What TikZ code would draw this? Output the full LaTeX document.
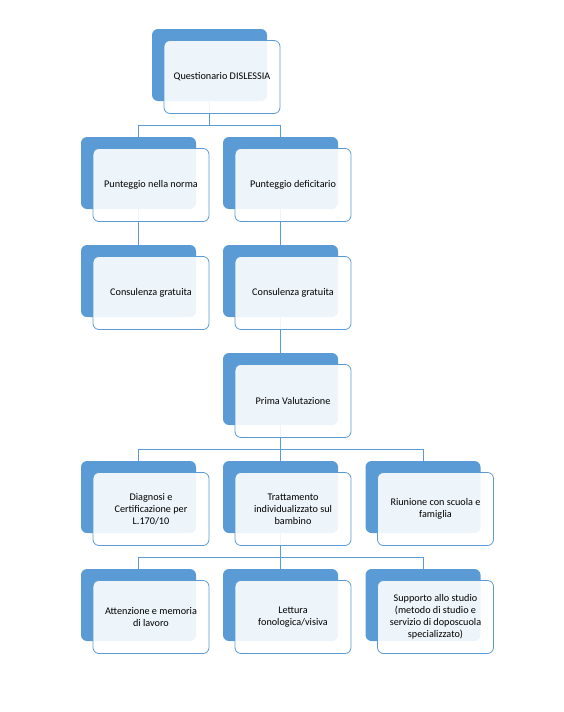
\documentclass[tikz,border=0pt]{standalone}
\usepackage{fontspec}
\setmainfont{Carlito}
\definecolor{officeblue}{HTML}{5B9BD5}
\definecolor{linkblue}{HTML}{5B9BD5}

\begin{document}
\begin{tikzpicture}[x=1pt,y=-1pt,
  backbox/.style={fill=officeblue,rounded corners=6pt,minimum width=115pt,minimum height=72pt,inner sep=0pt},
  frontbox/.style={draw=officeblue,line width=0.8pt,fill=white,fill opacity=0.9,text opacity=1,
    rounded corners=6pt,minimum width=116pt,minimum height=73pt,inner sep=2pt,
    align=center,font=\fontsize{10.2}{12}\selectfont},
  link/.style={draw=linkblue,line width=0.8pt}]
  \useasboundingbox (0,0) rectangle (564,712);
  % back shapes
  \node[backbox] (qb)  at (209.5,65) {};
  \node[backbox] (pnb) at (138.5,173) {};
  \node[backbox] (pdb) at (280.5,173) {};
  \node[backbox] (cnb) at (138.5,281) {};
  \node[backbox] (cdb) at (280.5,281) {};
  \node[backbox] (pvb) at (280.5,389) {};
  \node[backbox] (dcb) at (138.5,497) {};
  \node[backbox] (tib) at (280.5,497) {};
  \node[backbox] (rsb) at (423,497) {};
  \node[backbox] (amb) at (138.5,605) {};
  \node[backbox] (lfb) at (280.5,605) {};
  \node[backbox] (ssb) at (423,605) {};
  % connectors
  \draw[link] (qb.south) -- ++(0,24) -| (pnb.north);
  \draw[link] (qb.south) -- ++(0,24) -| (pdb.north);
  \draw[link] (pnb.south) -- (cnb.north);
  \draw[link] (pdb.south) -- (cdb.north);
  \draw[link] (cdb.south) -- (pvb.north);
  \draw[link] (pvb.south) -- ++(0,24) -| (dcb.north);
  \draw[link] (pvb.south) -- (tib.north);
  \draw[link] (pvb.south) -- ++(0,24) -| (rsb.north);
  \draw[link] (tib.south) -- ++(0,24) -| (amb.north);
  \draw[link] (tib.south) -- (lfb.north);
  \draw[link] (tib.south) -- ++(0,24) -| (ssb.north);
  % front boxes with text
  \node[frontbox] (q)  at ([shift={(12.5,12)}]qb)  {Questionario DISLESSIA};
  \node[frontbox] (pn) at ([shift={(12.5,12)}]pnb) {Punteggio nella norma};
  \node[frontbox] (pd) at ([shift={(12.5,12)}]pdb) {Punteggio deficitario};
  \node[frontbox] (cn) at ([shift={(12.5,12)}]cnb) {Consulenza gratuita};
  \node[frontbox] (cd) at ([shift={(12.5,12)}]cdb) {Consulenza gratuita};
  \node[frontbox] (pv) at ([shift={(12.5,12)}]pvb) {Prima Valutazione};
  \node[frontbox] (dc) at ([shift={(12.5,12)}]dcb) {Diagnosi e\\Certificazione per\\L.170/10};
  \node[frontbox] (ti) at ([shift={(12.5,12)}]tib) {Trattamento\\individualizzato sul\\bambino};
  \node[frontbox] (rs) at ([shift={(12.5,12)}]rsb) {Riunione con scuola e\\famiglia};
  \node[frontbox] (am) at ([shift={(12.5,12)}]amb) {Attenzione e memoria\\di lavoro};
  \node[frontbox] (lf) at ([shift={(12.5,12)}]lfb) {Lettura\\fonologica/visiva};
  \node[frontbox] (ss) at ([shift={(12.5,12)}]ssb) {Supporto allo studio\\(metodo di studio e\\servizio di doposcuola\\specializzato)};
\end{tikzpicture}
\end{document}
